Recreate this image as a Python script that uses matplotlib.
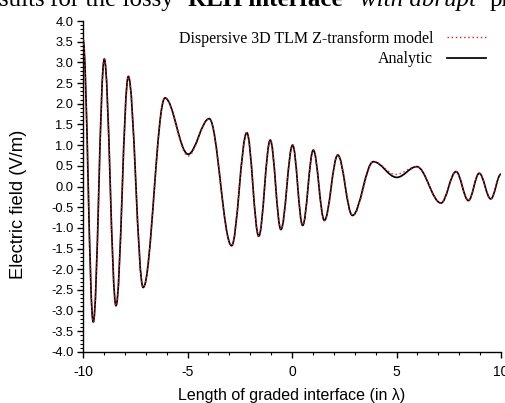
import matplotlib
matplotlib.use("Agg")
import matplotlib.pyplot as plt
from matplotlib.path import Path
from matplotlib.patches import PathPatch
from matplotlib.lines import Line2D
from matplotlib.ticker import MultipleLocator, FixedLocator, FormatStrFormatter

# Extrema of the curves (x in wavelengths, field in V/m)
analytic_x = [-10.0, -9.51, -8.98, -8.42, -7.83, -7.12, -6.08, -4.97, -3.96, -2.89,
              -2.16, -1.59, -1.04, -0.53, 0.03, 0.51, 1.02, 1.55, 2.19, 2.89,
              3.89, 5.01, 5.97, 7.13, 7.85, 8.44, 8.96, 9.51, 10.0]
analytic_y = [3.55, -3.28, 3.08, -2.88, 2.66, -2.44, 2.14, 0.78, 1.64, -1.43,
              1.30, -1.20, 1.12, -1.04, 1.00, -0.94, 0.88, -0.82, 0.76, -0.70,
              0.60, 0.22, 0.48, -0.40, 0.36, -0.34, 0.32, -0.30, 0.30]

model_x = [-10.0, -9.51, -8.98, -8.42, -7.83, -7.12, -6.08, -4.97, -3.96, -2.89,
           -2.16, -1.59, -1.04, -0.53, 0.03, 0.51, 1.02, 1.55, 2.19, 2.91,
           3.91, 4.95, 5.97, 7.13, 7.85, 8.44, 8.96, 9.51, 10.0]
model_y = [3.55, -3.28, 3.08, -2.88, 2.66, -2.44, 2.14, 0.74, 1.63, -1.43,
           1.30, -1.20, 1.12, -1.04, 1.00, -0.94, 0.88, -0.82, 0.76, -0.70,
           0.60, 0.29, 0.48, -0.40, 0.36, -0.34, 0.32, -0.30, 0.30]

x_ticks = [-10, -5, 0, 5, 10]
x_ticklabels = ["-10", "-5", "0", "5", "10"]
legend_labels = ["Dispersive 3D TLM Z-transform model", "Analytic"]
xlabel = "Length of graded interface (in \u03bb)"
ylabel = "Electric field (V/m)"
title_parts = ["Results", "for the lossy", "RLH interface", "with abrupt", "profile"]

K = 0.3634  # cubic Bezier control fraction approximating a half cosine wave


def wave_path(xs, ys):
    verts = [(xs[0], ys[0])]
    codes = [Path.MOVETO]
    for i in range(len(xs) - 1):
        dx = xs[i + 1] - xs[i]
        verts += [(xs[i] + K * dx, ys[i]), (xs[i + 1] - K * dx, ys[i + 1]), (xs[i + 1], ys[i + 1])]
        codes += [Path.CURVE4] * 3
    return Path(verts, codes)


W, H = 506, 403
fig = plt.figure(figsize=(W / 100, H / 100), dpi=100)
AX_L, AX_R, AX_T, AX_B = 83, 501, 21, 352
ax = fig.add_axes([AX_L / W, (H - AX_B) / H, (AX_R - AX_L) / W, (AX_B - AX_T) / H])

ax.add_patch(PathPatch(wave_path(analytic_x, analytic_y), fill=False, edgecolor="black",
                       lw=1.25, zorder=2))
ax.add_patch(PathPatch(wave_path(model_x, model_y), fill=False, edgecolor="#e8191c",
                       lw=1.0, linestyle=(0, (1, 2)), zorder=3))

ax.set_xlim(-10, 10)
ax.set_ylim(-4, 4)
ax.spines["top"].set_visible(False)
ax.spines["right"].set_visible(False)
for s in ("left", "bottom"):
    ax.spines[s].set_linewidth(1.0)

ax.xaxis.set_major_locator(FixedLocator(x_ticks))
ax.set_xticklabels(x_ticklabels)
ax.xaxis.set_minor_locator(MultipleLocator(1))
ax.yaxis.set_major_locator(MultipleLocator(0.5))
ax.yaxis.set_minor_locator(MultipleLocator(0.1))
ax.yaxis.set_major_formatter(FormatStrFormatter("%.1f"))

tick_font = "Liberation Sans"
ax.tick_params(which="major", direction="out", length=4.0, width=1.0)
ax.tick_params(which="minor", direction="out", length=2.5, width=0.8)
ax.tick_params(axis="y", which="major", labelsize=9.3, pad=3)
ax.tick_params(axis="x", which="major", labelsize=10, pad=5)
for lab in ax.get_xticklabels() + ax.get_yticklabels():
    lab.set_fontfamily(tick_font)

ax.set_xlabel(xlabel, fontsize=11.5, fontfamily=tick_font)
ax.xaxis.set_label_coords(0.5, (AX_B - 388) / (AX_B - AX_T))
ax.set_ylabel(ylabel, fontsize=13.2, fontfamily=tick_font)
ax.yaxis.set_label_coords((27 - AX_L) / (AX_R - AX_L), (AX_B - 204) / (AX_B - AX_T))

handles = [Line2D([], [], color="#e8191c", lw=1.0, linestyle=(0, (1, 2))),
           Line2D([], [], color="black", lw=1.25)]
ax.legend(handles, legend_labels, loc="upper right", frameon=False, markerfirst=False,
          prop={"family": "Liberation Serif", "size": 11.5}, handlelength=2.45,
          handletextpad=0.85, labelspacing=0.28, borderaxespad=0.0, borderpad=0.0,
          bbox_to_anchor=((486 - AX_L) / (AX_R - AX_L), (AX_B - 31) / (AX_B - AX_T)))

# partially visible title text at the top edge, as in the reference
ty = 1 - 6 / H
tfont = "Liberation Serif"
fig.text(45 / W, ty, title_parts[0], ha="right", va="baseline", fontfamily=tfont, fontsize=18)
fig.text(50 / W, ty, title_parts[1], ha="left", va="baseline", fontfamily=tfont, fontsize=18)
fig.text(188 / W, ty, title_parts[2], ha="left", va="baseline", fontfamily=tfont, fontsize=18,
         fontweight="bold")
fig.text(360 / W, ty, title_parts[3], ha="left", va="baseline", fontfamily=tfont, fontsize=18,
         fontstyle="italic")
fig.text(490 / W, ty, title_parts[4], ha="left", va="baseline", fontfamily=tfont, fontsize=18)

fig.savefig("out.png", dpi=100)
